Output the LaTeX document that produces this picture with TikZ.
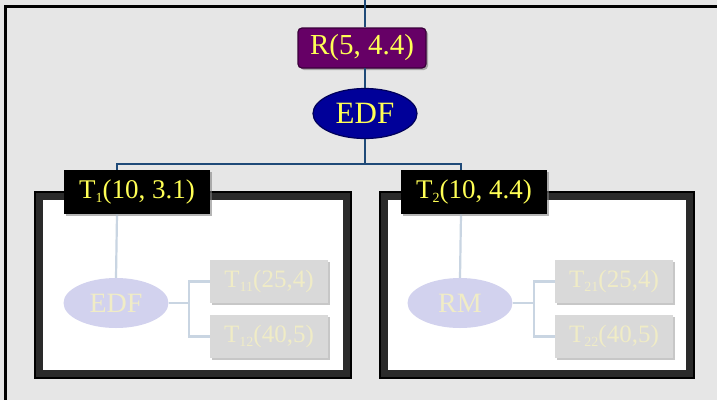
\documentclass[tikz,border=0pt]{standalone}
\usepackage{fontspec}
\setmainfont{Liberation Serif}
\usetikzlibrary{shapes.geometric,shadows}
\definecolor{bg}{HTML}{E6E6E6}
\definecolor{rfill}{HTML}{660066}
\definecolor{rdraw}{HTML}{3A003A}
\definecolor{efill}{HTML}{000099}
\definecolor{edraw}{HTML}{00005A}
\definecolor{ytext}{HTML}{FFFF55}
\definecolor{lnk}{HTML}{1F4A78}
\definecolor{flink}{HTML}{C9D5E2}
\definecolor{fell}{HTML}{D2D2EE}
\definecolor{fbox}{HTML}{D9D9D9}
\definecolor{ftext}{HTML}{F0ECC6}
\definecolor{frame}{HTML}{2A2A2A}
\newcommand\subx[1]{\raisebox{-0.35ex}{\fontsize{14}{14}\selectfont #1}}
\tikzset{
  rbox/.style={rectangle, rounded corners=4pt, fill=rfill, draw=rdraw, line width=1.2pt,
    minimum width=128pt, minimum height=40pt, inner sep=0pt, text=ytext,
    font=\fontsize{29}{29}\selectfont, drop shadow={shadow xshift=2pt, shadow yshift=-2pt, opacity=0.6}},
  bell/.style={ellipse, fill=efill, draw=edraw, line width=1.2pt, minimum width=104pt,
    minimum height=50pt, inner sep=0pt, text=ytext, font=\fontsize{31}{31}\selectfont},
  tbox/.style={rectangle, fill=black, minimum width=146pt, minimum height=44pt, inner sep=0pt,
    text=ytext, font=\fontsize{27}{27}\selectfont,
    drop shadow={shadow xshift=2pt, shadow yshift=-2pt, opacity=0.35}},
  fellip/.style={ellipse, fill=fell, minimum width=105pt, minimum height=50pt, inner sep=0pt,
    text=ftext, font=\fontsize{28}{28}\selectfont},
  fsub/.style={rectangle, fill=fbox, minimum width=118pt, minimum height=43pt, inner sep=0pt,
    text=ftext, font=\fontsize{25}{25}\selectfont,
    drop shadow={shadow xshift=2pt, shadow yshift=-2pt, fill=black!22, opacity=1}},
  link/.style={draw=lnk, line width=1.8pt},
  flk/.style={draw=flink, line width=2.2pt},
  frm/.style={draw=frame, line width=9pt, fill=white},
}
\begin{document}
\begin{tikzpicture}[x=1pt,y=-1pt]
\useasboundingbox (0,0) rectangle (717,400);
\fill[bg] (0,0) rectangle (717,400);
\draw[black, line width=3pt] (5,6.5) -- (717,6.5);
\draw[black, line width=2.5pt] (5.5,5) -- (5.5,400);

% frames
\draw[frm] (38.5,195.5) rectangle (347.5,374.5);
\draw[black, line width=2pt] (35,192) rectangle (351,378);
\draw[frm] (383.5,195.5) rectangle (690.5,374);
\draw[black, line width=2pt] (380,192) rectangle (694,377.5);

% top part
\coordinate (top) at (365,0);
\node[rbox] (r) at (362,48) {R(5, 4.4)};
\node[bell] (edf) at (365,113.5) {EDF};
\coordinate (j1) at (117,164);
\coordinate (j2) at (461,164);
\node[tbox] (t1) at (137,192) {T\subx{1}(10, 3.1)};
\node[tbox] (t2) at (474,192) {T\subx{2}(10, 4.4)};

\begin{scope}[on background layer/.try]
\end{scope}
\draw[link] (top) -- (top |- r.north);
\draw[link] (365,68) -- (edf.north);
\draw[link] (edf.south) -- (365,164) -- (j1) -- (j1 |- t1.north);
\draw[link] (365,164) -- (j2) -- (j2 |- t2.north);

% faded inner trees
\node[fellip] (e1) at (116,303) {EDF};
\node[fsub] (t11) at (269,281.5) {T\subx{11}(25,4)};
\node[fsub] (t12) at (269,336.5) {T\subx{12}(40,5)};
\coordinate (b1) at (189,303);
\draw[flk] (j1 |- t1.south) -- (e1.north);
\draw[flk] (e1.east) -- (b1);
\draw[flk] (t11.west) -| (b1) |- (t12.west);

\node[fellip] (e2) at (460,303) {RM};
\node[fsub] (t21) at (614,281.5) {T\subx{21}(25,4)};
\node[fsub] (t22) at (614,336.5) {T\subx{22}(40,5)};
\coordinate (b2) at (534,303);
\draw[flk] (j2 |- t2.south) -- (e2.north);
\draw[flk] (e2.east) -- (b2);
\draw[flk] (t21.west) -| (b2) |- (t22.west);

% redraw T boxes on top of links
\node[tbox] at (t1) {T\subx{1}(10, 3.1)};
\node[tbox] at (t2) {T\subx{2}(10, 4.4)};
\end{tikzpicture}
\end{document}
